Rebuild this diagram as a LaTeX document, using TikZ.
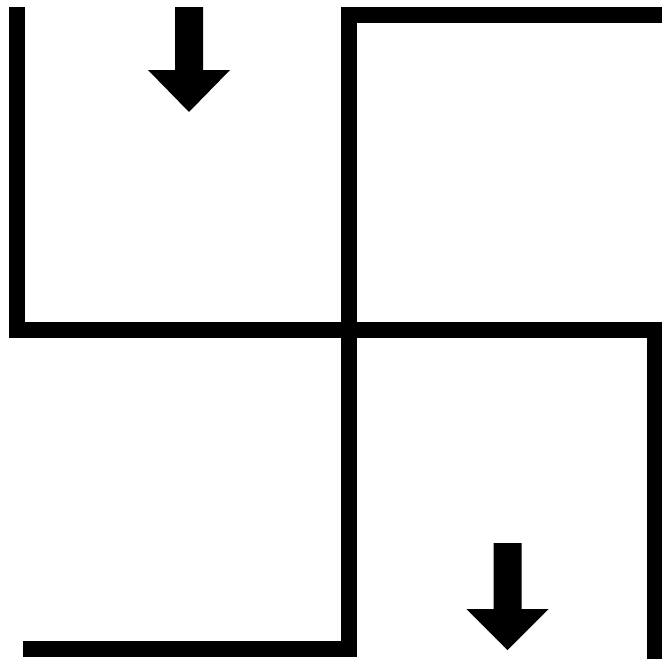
\documentclass[tikz,border=0pt]{standalone}
\usepackage{tikz}
\usetikzlibrary{calc}
\tikzset{
  wallln/.style={line width=16pt, line join=miter, line cap=butt, black},
  arrowfill/.style={fill=black, draw=none},
}
% down arrow: centre x, shaft top, head base, tip
\newcommand{\mazearrow}[4]{%
  \fill[arrowfill] (#1-14,#2) -- (#1+14,#2) -- (#1+14,#3) -- (#1+41,#3)
    -- (#1,#4) -- (#1-41,#3) -- (#1-14,#3) -- cycle;
}

\begin{document}
\begin{tikzpicture}[x=1pt, y=-1pt]
    \useasboundingbox (0,0) rectangle (662,659);
    % corners of the walls
    \coordinate (tl) at (16.5,7);
    \coordinate (ml) at (16.5,330);
    \coordinate (mr) at (655,330);
    \coordinate (br) at (655,659);
    \coordinate (tr) at (662,15);
    \coordinate (tm) at (348.5,15);
    \coordinate (bm) at (348.5,649);
    \coordinate (bl) at (23,649);
    % walls
    \draw[wallln] (tl) -- (ml) -- (mr) -- (br);
    \draw[wallln] (tr) -- (tm) -- (bm) -- (bl);
    % entry and exit
    \mazearrow{189}{7}{70}{112}
    \mazearrow{507.5}{543}{609}{650}
\end{tikzpicture}
\end{document}
